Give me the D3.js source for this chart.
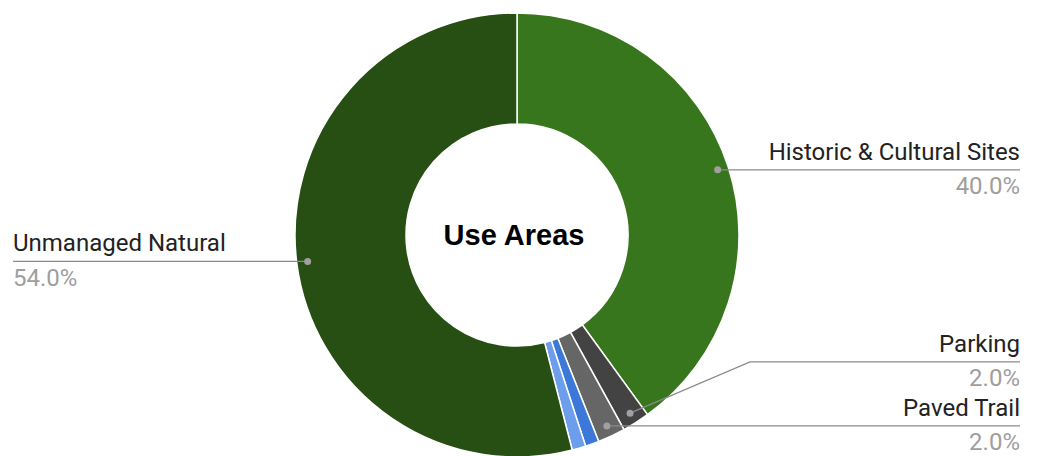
<!DOCTYPE html>
<html>
<head>
<meta charset="utf-8">
<script src="https://cdn.jsdelivr.net/npm/d3@7"></script>
<style>
  html, body { margin: 0; padding: 0; background: #fff; }
  #chart svg { display: block; }
</style>
</head>
<body>
<div id="chart"></div>
<script>
// slices, clockwise from 12 o'clock
const categories = ['Historic & Cultural Sites', 'Parking', 'Paved Trail', 'Unpaved Trail', 'Water Access', 'Unmanaged Natural'];
const values = [40, 2, 2, 1, 1, 54];
const colors = ['#38761d', '#434343', '#666666', '#3c78d8', '#6d9eeb', '#274e13'];
const title = 'Use Areas';

const W = 1037, H = 456;
const center = { x: 517, y: 235 };
const R = 222, r0 = 111;
const dotR = 211;

const svg = d3.select('#chart').append('svg')
  .attr('width', W)
  .attr('height', H);

const total = d3.sum(values);
const data = categories.map((c, i) => ({ name: c, value: values[i], color: colors[i] }));

const pie = d3.pie().sort(null).value(d => d.value);
const arcs = pie(data);
const arc = d3.arc().innerRadius(r0).outerRadius(R);

const g = svg.append('g').attr('transform', `translate(${center.x},${center.y})`);

g.selectAll('path.slice')
  .data(arcs)
  .join('path')
  .attr('class', 'slice')
  .attr('d', arc)
  .attr('fill', d => d.data.color)
  .attr('stroke', '#fff')
  .attr('stroke-width', 1.5);

// labels only for slices big enough
const labeled = arcs.filter(a => a.data.value / total >= 0.02);
labeled.forEach(a => {
  const mid = (a.startAngle + a.endAngle) / 2;
  a.dx = center.x + dotR * Math.sin(mid);
  a.dy = center.y - dotR * Math.cos(mid);
  a.right = mid < Math.PI;
  a.ly = a.dy;
});

// push labels apart, bottom up
const gap = 64;
[true, false].forEach(side => {
  const list = labeled.filter(a => a.right === side).sort((p, q) => q.ly - p.ly);
  for (let i = 1; i < list.length; i++) {
    list[i].ly = Math.min(list[i].ly, list[i - 1].ly - gap);
  }
});

const fmt = d3.format('.1%');
const labelG = svg.append('g');

labeled.forEach(a => {
  const xEnd = a.right ? 1020 : 13;
  const elbow = a.right ? center.x + R + 11 : center.x - R - 11;
  const pts = a.ly === a.dy
    ? [[a.dx, a.dy], [xEnd, a.ly]]
    : [[a.dx, a.dy], [elbow, a.ly], [xEnd, a.ly]];

  labelG.append('path')
    .attr('d', d3.line()(pts))
    .attr('fill', 'none')
    .attr('stroke', '#8a8a8a')
    .attr('stroke-width', 1.2);

  labelG.append('circle')
    .attr('cx', a.dx)
    .attr('cy', a.dy)
    .attr('r', 3.5)
    .attr('fill', '#a0a0a0');

  const anchor = a.right ? 'end' : 'start';
  labelG.append('text')
    .attr('x', xEnd)
    .attr('y', a.ly - 10)
    .attr('text-anchor', anchor)
    .attr('font-family', 'Roboto, sans-serif')
    .attr('font-size', 24)
    .attr('fill', '#222')
    .text(a.data.name);

  labelG.append('text')
    .attr('x', xEnd)
    .attr('y', a.ly + 24.5)
    .attr('text-anchor', anchor)
    .attr('font-family', 'Roboto, sans-serif')
    .attr('font-size', 24)
    .attr('fill', '#9e9e9e')
    .text(fmt(a.data.value / total));
});

svg.append('text')
  .attr('x', center.x - 3)
  .attr('y', center.y + 10)
  .attr('text-anchor', 'middle')
  .attr('font-family', '"Liberation Sans", Arial, sans-serif')
  .attr('font-weight', 'bold')
  .attr('font-size', 29)
  .attr('fill', '#000')
  .text(title);
</script>
</body>
</html>
